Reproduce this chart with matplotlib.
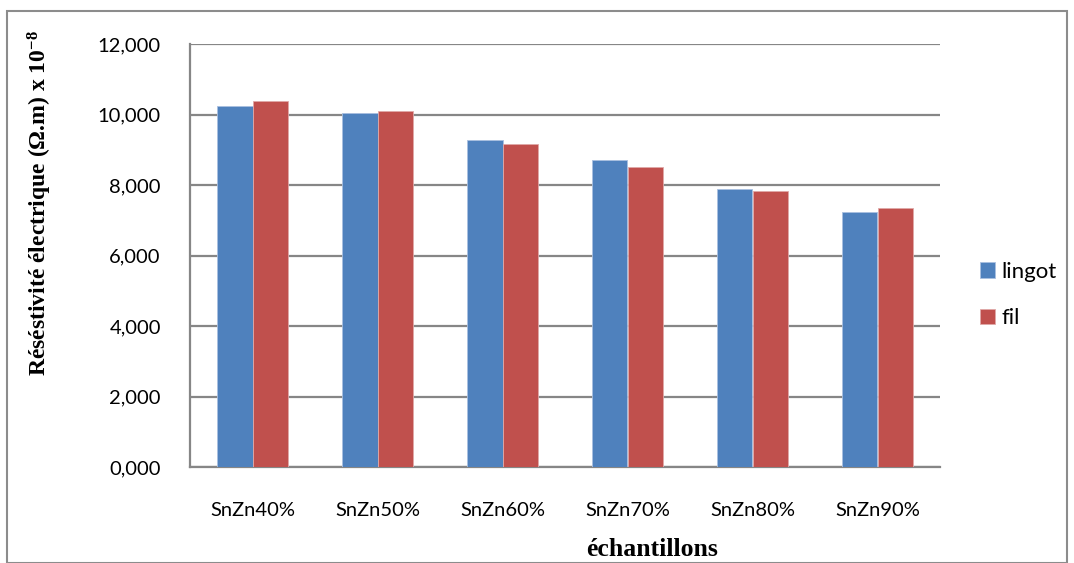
import matplotlib
matplotlib.use("Agg")
import matplotlib.pyplot as plt
import numpy as np
from matplotlib.patches import Rectangle
from matplotlib.ticker import FuncFormatter

categories = ["SnZn40%", "SnZn50%", "SnZn60%", "SnZn70%", "SnZn80%", "SnZn90%"]
lingot = [10.24, 10.05, 9.28, 8.72, 7.90, 7.24]
fil = [10.38, 10.10, 9.17, 8.50, 7.83, 7.35]
yticks = [0, 2, 4, 6, 8, 10, 12]

plt.rcParams["mathtext.fontset"] = "custom"
plt.rcParams["mathtext.rm"] = "Liberation Serif:bold"
plt.rcParams["mathtext.bf"] = "Liberation Serif:bold"
plt.rcParams["mathtext.it"] = "Liberation Serif:bold"

W, H = 1074, 563
fig = plt.figure(figsize=(W / 100, H / 100), dpi=100)
ax = fig.add_axes([190 / W, 1 - 467 / H, 750 / W, 423 / H])

x = np.arange(len(categories))
bw = 1 / 3.5
ax.bar(x - bw / 2, lingot, bw, color="#4F81BD", label="lingot", zorder=3,
       edgecolor="#a9bfe0", linewidth=0.6)
ax.bar(x + bw / 2, fil, bw, color="#C0504D", label="fil", zorder=3,
       edgecolor="#e0a9a8", linewidth=0.6)

ax.set_xlim(-0.5, len(categories) - 0.5)
ax.set_ylim(0, 12)
ax.set_yticks(yticks)
ax.yaxis.set_major_formatter(FuncFormatter(lambda v, p: f"{int(round(v))},000"))
ax.set_xticks(x)
ax.set_xticklabels(categories)
sans = ["Lato", "DejaVu Sans"]
for lab in ax.get_xticklabels():
    lab.set_family(sans)
    lab.set_fontsize(14.5)
for lab in ax.get_yticklabels():
    lab.set_family(sans)
    lab.set_fontsize(14.5)
ax.tick_params(axis="x", length=0, pad=25)
ax.tick_params(axis="y", length=0, pad=21)
ax.grid(axis="y", color="#868686", lw=1.6, zorder=0)
for s in ["top", "right"]:
    ax.spines[s].set_visible(False)
for s in ["left", "bottom"]:
    ax.spines[s].set_color("#868686")
    ax.spines[s].set_linewidth(1.6)

serif = ["Liberation Serif", "DejaVu Serif"]
fig.text(40 / W, 1 - 203 / H, r"Réséstivité électrique (Ω.m) x 10$^{-8}$", rotation=90,
         ha="center", va="center", fontsize=17, fontweight="bold", family=serif)
fig.text(652 / W, 1 - 550 / H, "échantillons", ha="center", va="center",
         fontsize=18.5, fontweight="bold", family=serif)

leg = fig.legend(loc="center left", bbox_to_anchor=(960 / W, 1 - 295 / H), frameon=False,
                 prop={"family": sans, "size": 16},
                 handlelength=0.68, handleheight=0.68, handletextpad=0.3, labelspacing=1.2)

fig.patches.append(Rectangle((7 / W, 0), 1 - 14 / W, 1 - 11 / H, transform=fig.transFigure,
                             fill=False, edgecolor="#8c8c8c", lw=1.5))
fig.savefig("out.png", dpi=100)
